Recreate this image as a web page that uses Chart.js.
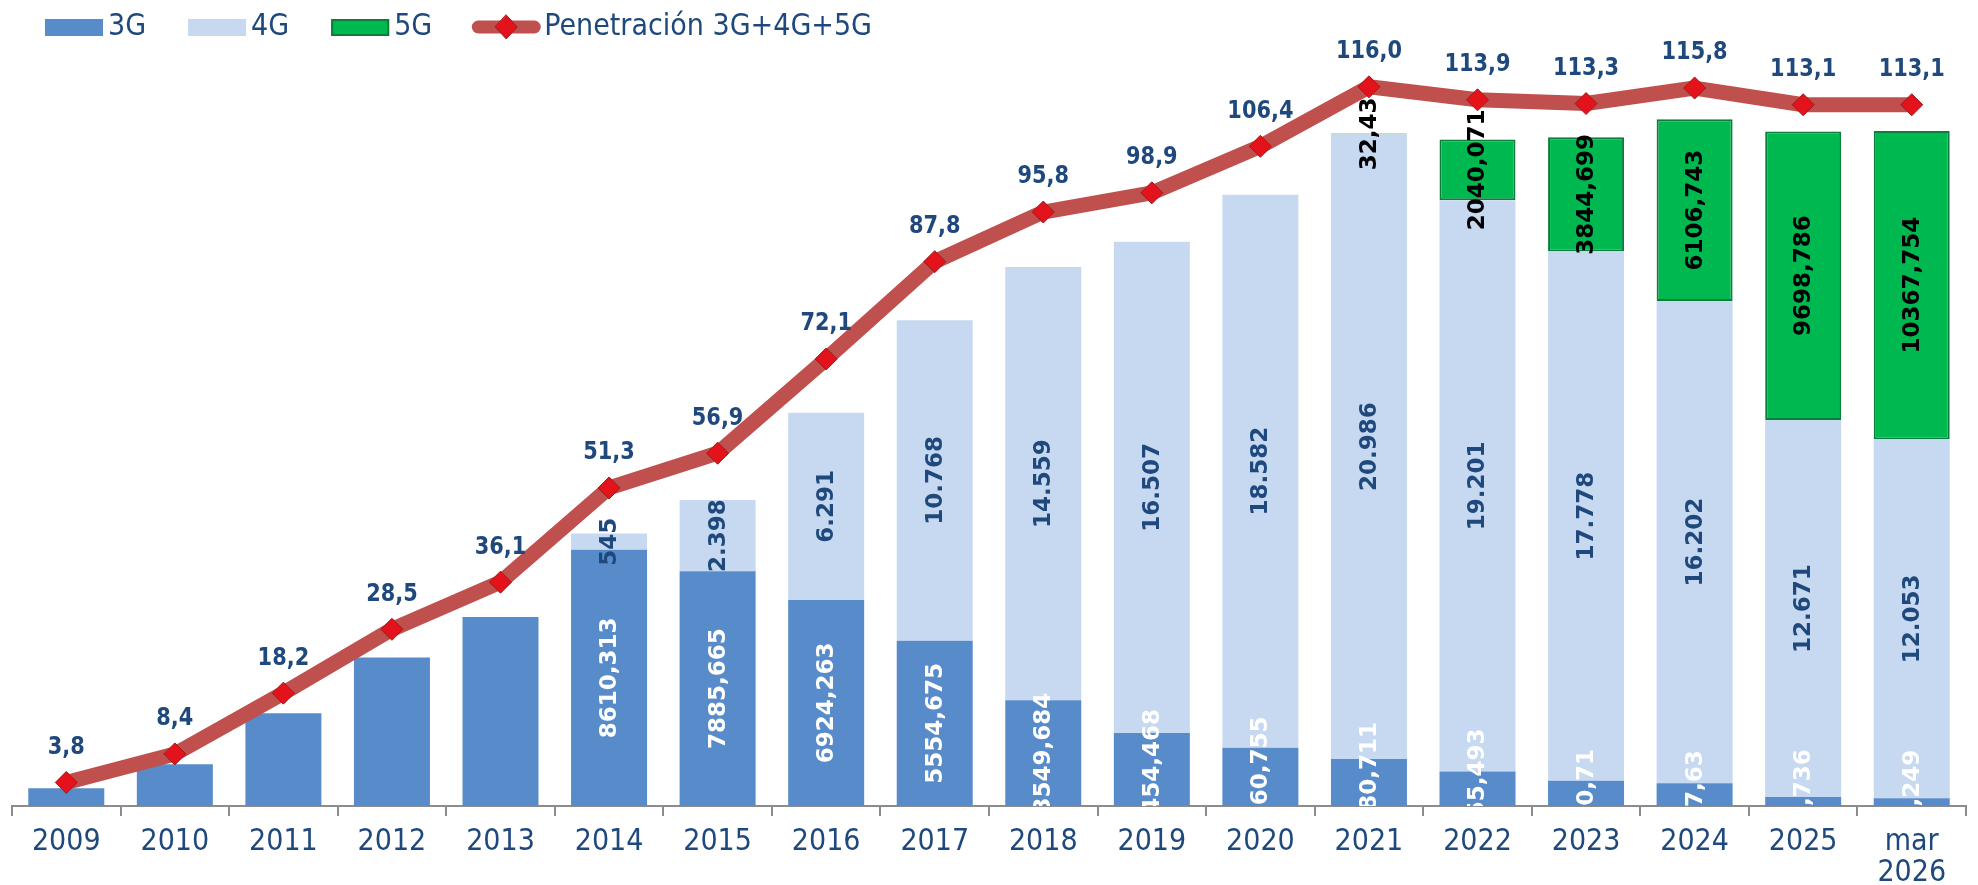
<!DOCTYPE html>
<html lang="es">
<head>
  <meta charset="UTF-8">
  <title>Penetración 3G+4G+5G</title>
  <script src="https://cdn.jsdelivr.net/npm/chart.js"></script>
  <style>
    html, body {
      margin: 0;
      padding: 0;
      background: #fff;
    }
    .wrap {
      width: 1978px;
      height: 885px;
    }
  </style>
</head>
<body>

<div class="wrap">
  <canvas id="chart" width="1978" height="885"></canvas>
</div>

<script>
// categories
const years = ['2009', '2010', '2011', '2012', '2013', '2014', '2015', '2016', '2017',
  '2018', '2019', '2020', '2021', '2022', '2023', '2024', '2025', ['mar', '2026']];

// lines in thousands
const lines3G = [597, 1407, 3113, 4989, 6354, 8610.313, 7885.665, 6924.263, 5554.675,
  3549.684, 2454.468, 1960.755, 1580.711, 1155.493, 850.71, 767.63, 298.736, 263.249];
const lines4G = [null, null, null, null, null, 545, 2398, 6291, 10768,
  14559, 16507, 18582, 20986, 19201, 17778, 16202, 12671, 12053];
const lines5G = [null, null, null, null, null, null, null, null, null,
  null, null, null, 32.43, 2040.071, 3844.699, 6106.743, 9698.786, 10367.754];

// penetration %
const penetration = [3.8, 8.4, 18.2, 28.5, 36.1, 51.3, 56.9, 72.1, 87.8,
  95.8, 98.9, 106.4, 116.0, 113.9, 113.3, 115.8, 113.1, 113.1];

// 3G labels only shown from 2014 on
const first3GLabel = 5;

const navy = '#1F497D';
const tickFont = "'DejaVu Sans Condensed', 'DejaVu Sans', sans-serif";
const boldFont = "'DejaVu Sans', Verdana, sans-serif";

function fmtDecimal(v) { return String(v).replace('.', ','); }
function fmtThousands(v) { return String(v).replace(/\B(?=(\d{3})+(?!\d))/g, '.'); }

const labelPlugin = {
  id: 'valueLabels',
  afterDatasetsDraw(chart) {
    const ctx = chart.ctx;
    const area = chart.chartArea;
    const setups = [
      { color: '#ffffff', fmt: fmtDecimal },
      { color: navy, fmt: fmtThousands },
      { color: '#000000', fmt: fmtDecimal }
    ];
    ctx.save();
    ctx.beginPath();
    ctx.rect(area.left, 0, area.right - area.left, area.bottom);
    ctx.clip();
    ctx.font = 'bold 23px ' + boldFont;
    ctx.textAlign = 'center';
    ctx.textBaseline = 'middle';
    for (let i = 0; i < 3; i++) {
      const ds = chart.data.datasets[i];
      const meta = chart.getDatasetMeta(i);
      meta.data.forEach((bar, j) => {
        const v = ds.data[j];
        if (v == null) return;
        if (i === 0 && j < first3GLabel) return;
        const cy = (bar.y + bar.base) / 2;
        ctx.save();
        ctx.translate(bar.x, cy);
        ctx.rotate(-Math.PI / 2);
        ctx.fillStyle = setups[i].color;
        ctx.fillText(setups[i].fmt(v), 0, 1);
        ctx.restore();
      });
    }
    ctx.restore();

    // penetration labels, a bit taller than wide like the original
    const lineMeta = chart.getDatasetMeta(3);
    ctx.save();
    ctx.font = 'bold 22px ' + boldFont;
    ctx.fillStyle = navy;
    ctx.textAlign = 'center';
    ctx.textBaseline = 'middle';
    lineMeta.data.forEach((pt, j) => {
      ctx.save();
      ctx.translate(pt.x, pt.y - 35);
      ctx.scale(0.95, 1.12);
      ctx.fillText(penetration[j].toFixed(1).replace('.', ','), 0, 0);
      ctx.restore();
    });
    ctx.restore();
  },
  afterDraw(chart) {
    // legend along the top
    const ctx = chart.ctx;
    const cy = 27;
    let x = 45;
    ctx.save();
    ctx.font = '30px ' + tickFont;
    ctx.textBaseline = 'middle';
    chart.data.datasets.forEach((ds, i) => {
      if (ds.type === 'line') {
        ctx.strokeStyle = ds.borderColor;
        ctx.lineWidth = 13;
        ctx.lineCap = 'round';
        ctx.beginPath();
        ctx.moveTo(x + 4, cy);
        ctx.lineTo(x + 60, cy);
        ctx.stroke();
        ctx.fillStyle = ds.pointBackgroundColor;
        ctx.strokeStyle = ds.pointBorderColor;
        ctx.lineWidth = 1;
        ctx.beginPath();
        ctx.moveTo(x + 32, cy - 12);
        ctx.lineTo(x + 43, cy);
        ctx.lineTo(x + 32, cy + 12);
        ctx.lineTo(x + 21, cy);
        ctx.closePath();
        ctx.fill();
        ctx.stroke();
        x += 70;
      } else {
        ctx.fillStyle = ds.backgroundColor;
        ctx.fillRect(x, cy - 8, 58, 17);
        if (ds.borderWidth) {
          ctx.strokeStyle = ds.borderColor;
          ctx.lineWidth = 2;
          ctx.strokeRect(x + 1, cy - 7, 56, 15);
        }
        x += 63;
      }
      ctx.fillStyle = navy;
      ctx.fillText(ds.label, x, cy);
      x += ctx.measureText(ds.label).width + 42;
    });
    ctx.restore();
  }
};

const ctx = document.getElementById('chart').getContext('2d');
new Chart(ctx, {
  data: {
    labels: years,
    datasets: [
      {
        type: 'bar',
        label: '3G',
        data: lines3G,
        backgroundColor: '#578BCA',
        yAxisID: 'y',
        order: 2
      },
      {
        type: 'bar',
        label: '4G',
        data: lines4G,
        backgroundColor: '#C6D9F1',
        yAxisID: 'y',
        order: 2
      },
      {
        type: 'bar',
        label: '5G',
        data: lines5G,
        backgroundColor: '#00B850',
        borderColor: '#0A7F3C',
        borderWidth: 2,
        borderSkipped: false,
        yAxisID: 'y',
        order: 2
      },
      {
        type: 'line',
        label: 'Penetración 3G+4G+5G',
        data: penetration,
        borderColor: '#C0504D',
        borderWidth: 15,
        borderJoinStyle: 'round',
        borderCapStyle: 'round',
        pointStyle: 'rectRot',
        pointRadius: 11,
        pointBackgroundColor: '#E3121B',
        pointBorderColor: '#9A1C1C',
        pointBorderWidth: 1,
        tension: 0,
        clip: false,
        yAxisID: 'y1',
        order: 1
      }
    ]
  },
  options: {
    responsive: false,
    animation: false,
    layout: {
      padding: { top: 62, left: 8, right: 0, bottom: 0 }
    },
    datasets: {
      bar: { barPercentage: 0.7, categoryPercentage: 1.0 }
    },
    scales: {
      x: {
        stacked: true,
        offset: true,
        // the second line of "mar 2026" may run to the very bottom edge
        afterFit(scale) { scale.height = 79; },
        grid: {
          offset: true,
          drawOnChartArea: false,
          drawTicks: true,
          tickLength: 10,
          color: '#8C8C8C',
          lineWidth: 2
        },
        border: { color: '#8C8C8C', width: 2 },
        ticks: {
          color: navy,
          font: { family: tickFont, size: 30, lineHeight: 1.05 },
          padding: 10,
          maxRotation: 0,
          autoSkip: false
        }
      },
      y: { stacked: true, display: false, min: 0, max: 25000 },
      y1: { display: false, min: 0, max: 120 }
    },
    plugins: {
      legend: { display: false },
      tooltip: { enabled: false }
    }
  },
  plugins: [labelPlugin]
});
</script>

</body>
</html>
